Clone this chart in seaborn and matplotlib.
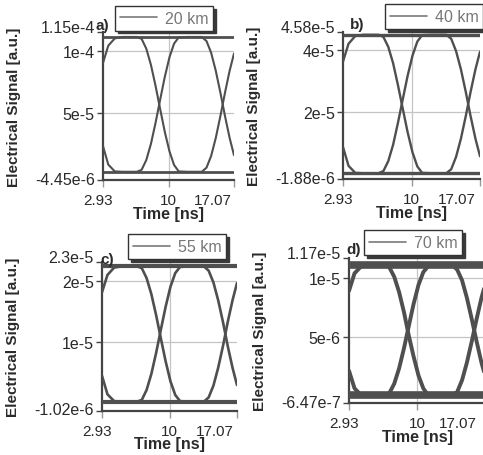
import numpy as np
import pandas as pd
import matplotlib
matplotlib.use("Agg")
import matplotlib.pyplot as plt
import matplotlib.transforms as mtransforms
from matplotlib.lines import Line2D
import seaborn as sns

# ---------------- data ----------------
time_ns = [2.93, 3.5, 4.2, 5.0, 6.0, 6.6, 7.1, 7.6, 8.1, 8.6, 9.1, 9.6, 10.1,
           10.6, 11.1, 12.0, 13.0, 13.6, 14.1, 14.6, 15.1, 15.6, 16.1, 16.6, 17.07]
x_ticks = [2.93, 10, 17.07]
x_ticklabels = ["2.93", "10", "17.07"]

# panel a) 20 km  (values in units of 1e-5 a.u.)
a_trace1 = [9.0, 10.4, 10.98, 11.1, 11.1, 11.1, 10.94, 10.16, 8.86, 7.16, 5.28, 3.44, 1.88,
            0.77, 0.25, 0.22, 0.22, 0.22, 0.55, 1.49, 2.94, 4.71, 6.61, 8.38, 9.76]
a_trace2 = [2.29, 0.80, 0.25, 0.22, 0.22, 0.22, 0.38, 1.16, 2.46, 4.16, 6.04, 7.88, 9.45,
            10.56, 11.07, 11.1, 11.1, 11.1, 10.77, 9.83, 8.38, 6.61, 4.71, 2.94, 1.56]
a_levels = [11.1, 0.22]
a_yticks = [-4.45e-6, 5e-5, 1e-4, 1.15e-4]
a_yticklabels = ["-4.45e-6", "5e-5", "1e-4", "1.15e-4"]

# panel b) 40 km
b_trace1 = [3.62, 4.20, 4.45, 4.49, 4.49, 4.49, 4.42, 4.10, 3.57, 2.86, 2.09, 1.33, 0.68,
            0.22, 0.01, 0.0, 0.0, 0.0, 0.13, 0.53, 1.12, 1.85, 2.64, 3.37, 3.94]
b_trace2 = [0.85, 0.24, 0.01, 0.0, 0.0, 0.0, 0.07, 0.39, 0.92, 1.63, 2.40, 3.16, 3.81,
            4.27, 4.48, 4.49, 4.49, 4.49, 4.36, 3.96, 3.37, 2.64, 1.85, 1.12, 0.55]
b_levels = [4.49, 0.0]
b_yticks = [-1.88e-6, 2e-5, 4e-5, 4.58e-5]
b_yticklabels = ["-1.88e-6", "2e-5", "4e-5", "4.58e-5"]

# panel c) 55 km
c_trace1 = [1.81, 2.09, 2.21, 2.23, 2.23, 2.23, 2.20, 2.04, 1.78, 1.44, 1.06, 0.69, 0.37,
            0.15, 0.05, 0.04, 0.04, 0.04, 0.11, 0.30, 0.59, 0.94, 1.33, 1.68, 1.96]
c_trace2 = [0.46, 0.16, 0.05, 0.04, 0.04, 0.04, 0.07, 0.23, 0.49, 0.83, 1.21, 1.58, 1.90,
            2.12, 2.22, 2.23, 2.23, 2.23, 2.16, 1.97, 1.68, 1.33, 0.94, 0.59, 0.31]
c_levels = [2.23, 0.04]
c_yticks = [-1.02e-6, 1e-5, 2e-5, 2.3e-5]
c_yticklabels = ["-1.02e-6", "1e-5", "2e-5", "2.3e-5"]

# panel d) 70 km
d_trace1 = [0.89, 1.04, 1.10, 1.11, 1.11, 1.11, 1.09, 1.01, 0.88, 0.71, 0.51, 0.33, 0.17,
            0.06, 0.0, 0.0, 0.0, 0.0, 0.03, 0.13, 0.28, 0.46, 0.65, 0.83, 0.97]
d_trace2 = [0.21, 0.06, 0.0, 0.0, 0.0, 0.0, 0.02, 0.10, 0.23, 0.40, 0.59, 0.78, 0.94,
            1.05, 1.10, 1.11, 1.11, 1.11, 1.07, 0.98, 0.83, 0.65, 0.46, 0.28, 0.14]
d_levels = [1.11, 0.0]
d_yticks = [-6.47e-7, 5e-6, 1e-5, 1.17e-5]
d_yticklabels = ["-6.47e-7", "5e-6", "1e-5", "1.17e-5"]

panel_tags = ["a)", "b)", "c)", "d)"]
legend_labels = ["20 km", "40 km", "55 km", "70 km"]
UNIT = 1e-5

# ---------------- style ----------------
sns.set_style("white")
plt.rcParams["font.family"] = ["Liberation Sans", "DejaVu Sans"]

W, H = 483, 456
fig = plt.figure(figsize=(W / 100, H / 100), dpi=100)

# pixel boxes: left, right, top, bottom
boxes = [(103, 234, 33, 181), (343, 480, 33, 180), (102, 237, 263, 411.5), (349, 486, 259, 404)]
legend_pos = [(115, 31.7), (385, 30), (128, 260), (364, 256)]
tag_pos = [(102, 26), (357, 25), (107, 260), (354, 250)]
last_tick_dx = [-2, -4, -3, -9]
widths = [(1.5, 2.0), (1.7, 2.4), (1.9, 3.0), (2.8, 5.5)]

panels = [
    (a_trace1, a_trace2, a_levels, a_yticks, a_yticklabels),
    (b_trace1, b_trace2, b_levels, b_yticks, b_yticklabels),
    (c_trace1, c_trace2, c_levels, c_yticks, c_yticklabels),
    (d_trace1, d_trace2, d_levels, d_yticks, d_yticklabels),
]

curve_col = "#4f4f4f"
axis_col = "#444444"
text_col = "#2a2a2a"

for i, (t1, t2, lv, yt, ytl) in enumerate(panels):
    l, r, t, b = boxes[i]
    wpx, hpx = r - l, b - t
    ax = fig.add_axes([l / W, 1 - b / H, wpx / W, hpx / H])

    df = pd.DataFrame({
        "time": time_ns * 2,
        "signal": np.array(list(t1) + list(t2)) * UNIT,
        "trace": ["t1"] * len(time_ns) + ["t2"] * len(time_ns),
    })
    lw_curve, lw_flat = widths[i]
    sns.lineplot(data=df, x="time", y="signal", units="trace", estimator=None,
                 color=curve_col, lw=lw_curve, ax=ax, legend=False, zorder=3)
    flat = pd.DataFrame({
        "time": [x_ticks[0], x_ticks[-1], x_ticks[0], x_ticks[-1]],
        "signal": np.array([lv[0], lv[0], lv[1], lv[1]]) * UNIT,
        "trace": ["hi", "hi", "lo", "lo"],
    })
    sns.lineplot(data=flat, x="time", y="signal", units="trace", estimator=None,
                 color=curve_col, lw=lw_flat, ax=ax, legend=False, zorder=3,
                 solid_capstyle="butt")

    ax.set_xlim(x_ticks[0], x_ticks[-1])
    ax.set_ylim(yt[0], yt[-1])
    ax.set_xticks(x_ticks)
    ax.set_xticklabels(x_ticklabels)
    ax.set_yticks(yt)
    ax.set_yticklabels(ytl)

    # grid: only interior y ticks and the middle x tick
    ax.grid(True, color="#c4c4c4", lw=0.9, zorder=0)
    ygl = ax.yaxis.get_gridlines()
    ygl[0].set_visible(False)
    ygl[-1].set_visible(False)
    xgl = ax.xaxis.get_gridlines()
    xgl[0].set_visible(False)
    xgl[-1].set_visible(False)

    for s in ["top", "right"]:
        ax.spines[s].set_visible(False)
    for s in ["left", "bottom"]:
        ax.spines[s].set_color(axis_col)
        ax.spines[s].set_linewidth(1.6)

    ax.tick_params(axis="y", which="major", direction="out", length=4, width=1,
                   color=axis_col, labelsize=11.5, labelcolor=text_col, pad=2, left=True)
    ax.tick_params(axis="x", which="major", direction="out", length=5, width=1,
                   color="#999999", labelsize=11, labelcolor=text_col, pad=4.5, bottom=True)

    # label nudges
    xtl = ax.get_xticklabels()
    xtl[0].set_transform(xtl[0].get_transform() +
                         mtransforms.ScaledTranslation(-5 / 100, 0, fig.dpi_scale_trans))
    xtl[-1].set_horizontalalignment("right")
    xtl[-1].set_transform(xtl[-1].get_transform() +
                          mtransforms.ScaledTranslation(last_tick_dx[i] / 100, 0,
                                                        fig.dpi_scale_trans))
    ytls = ax.get_yticklabels()
    ytls[-1].set_transform(ytls[-1].get_transform() +
                           mtransforms.ScaledTranslation(0, 6 / 100, fig.dpi_scale_trans))
    ytls[0].set_transform(ytls[0].get_transform() +
                          mtransforms.ScaledTranslation(0, 2 / 100, fig.dpi_scale_trans))

    ax.set_xlabel("Time [ns]", fontsize=11.5, fontweight="bold", color=text_col)
    ax.xaxis.set_label_coords(0.5, -26 / hpx)
    ax.set_ylabel("Electrical Signal [a.u.]", fontsize=11, fontweight="bold", color=text_col)
    ax.yaxis.set_label_coords(-82 / wpx, 0.5)

    tx, ty = tag_pos[i]
    ax.text((tx - l) / wpx, (b - ty) / hpx, panel_tags[i], transform=ax.transAxes,
            ha="center", va="center", fontsize=11, fontweight="bold", color=text_col,
            clip_on=False, zorder=4)

    lx, ly = legend_pos[i]
    handle = Line2D([], [], color="#7a7a7a", lw=1.2)
    leg = ax.legend([handle], [legend_labels[i]], loc="lower left",
                    bbox_to_anchor=((lx - l) / wpx, (b - ly) / hpx),
                    borderaxespad=0, frameon=True, fancybox=False,
                    shadow={"color": "#3a3a3a", "alpha": 1.0},
                    fontsize=11.5, handlelength=2.3, handletextpad=0.5,
                    borderpad=0.3, labelcolor="#777777")
    leg.get_frame().set_edgecolor("#333333")
    leg.get_frame().set_linewidth(1.0)
    leg.get_frame().set_facecolor("white")
    leg.set_zorder(10)

fig.savefig("out.png", dpi=100)
